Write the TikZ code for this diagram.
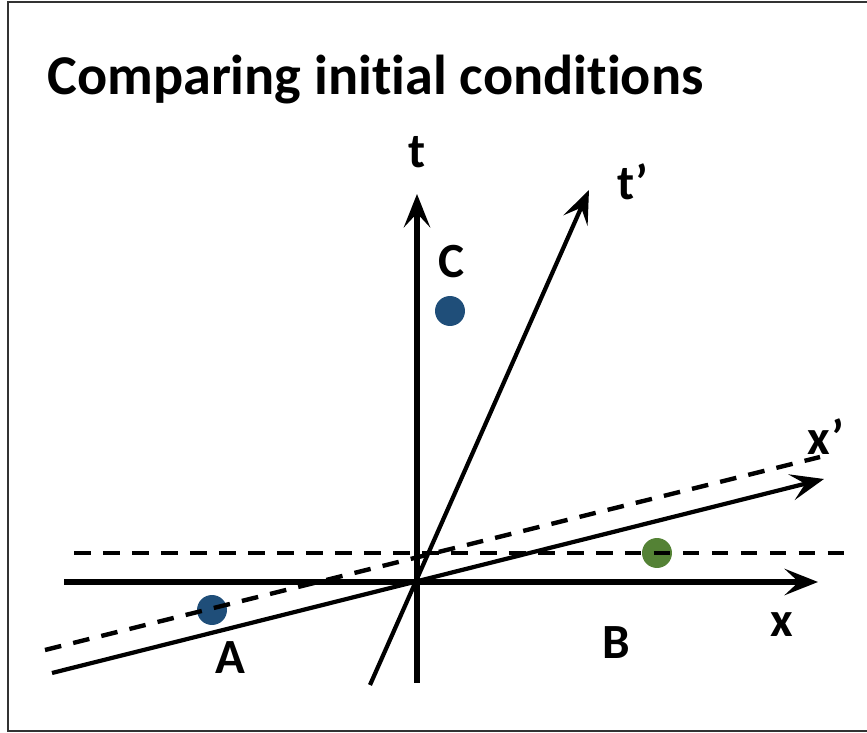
\documentclass[tikz,border=0pt]{standalone}
\usepackage{fontspec}
\setmainfont{Carlito}[Ligatures={TeX,NoCommon}]
\usetikzlibrary{arrows.meta}
\definecolor{puntoblu}{HTML}{1F4E79}
\definecolor{puntoverde}{HTML}{548235}
\begin{document}
\begin{tikzpicture}[x=0.02cm, y=-0.02cm,
		>={Stealth[length=19pt, width=15pt, inset=8pt]},
		asse/.style={line width=2.9pt, black},
		assep/.style={line width=2.4pt, black},
		tratto/.style={line width=2.5pt, dash pattern=on 9.5pt off 7pt, black},
		punto/.style={circle, inner sep=0pt, minimum size=0.6cm},
		etich/.style={font=\bfseries\fontsize{28}{33}\selectfont, inner sep=0pt}]
	\useasboundingbox (0,0) rectangle (867,733);
	%% cornice (il lato destro esce dalla figura)
	\draw[line width=1.2pt, black!80] (880,2) -- (8,2) -- (8,731) -- (880,731);
	
	%% titolo (kern per evitare la legatura "ti" di Carlito)
	\node[anchor=base west, inner sep=0pt, font=\bfseries\fontsize{32}{38}\selectfont] (titolo) at (47,95) {Comparing init\kern0pt ial condit\kern0pt ions};
	
	%% estremi degli assi
	\coordinate (O) at (417,582);
	\coordinate (xa) at (64,582);    \coordinate (xb) at (818,582);
	\coordinate (ta) at (417,683);   \coordinate (tb) at (417,194);
	\coordinate (tpa) at (370,685);  \coordinate (tpb) at (589,190);
	\coordinate (xpa) at (52,673);   \coordinate (xpb) at (824,479);
	
	\draw[asse, ->] (xa) -- (xb);
	\draw[asse, ->] (ta) -- (tb);
	\draw[assep, ->] (tpa) -- (tpb);
	\draw[assep, ->] (xpa) -- (xpb);
	
	%% eventi
	\node[punto, fill=puntoblu] (C) at (450,311) {};
	\node[punto, fill=puntoblu] (A) at (212,610) {};
	\node[punto, fill=puntoverde] (B) at (657,553) {};
	
	%% linee di simultaneita'
	\coordinate (sa) at (74,553);  \coordinate (sb) at (846,553);
	\coordinate (spa) at (45,650); \coordinate (spb) at (820,457);
	\draw[tratto] (sa) -- (sb);
	\draw[tratto] (spa) -- (spb);
	
	%% etichette
	\node[etich] (lt) at (417,152) {t};
	\node[etich] (ltp) at (633,182) {t’};
	\node[etich] (lx) at (782,625) {x};
	\node[etich] (lxp) at (826,437) {x’};
	\node[etich] (lC) at (452,262) {C};
	\node[etich] (lA) at (230,658) {A};
	\node[etich] (lB) at (616,643) {B};
\end{tikzpicture}
\end{document}
